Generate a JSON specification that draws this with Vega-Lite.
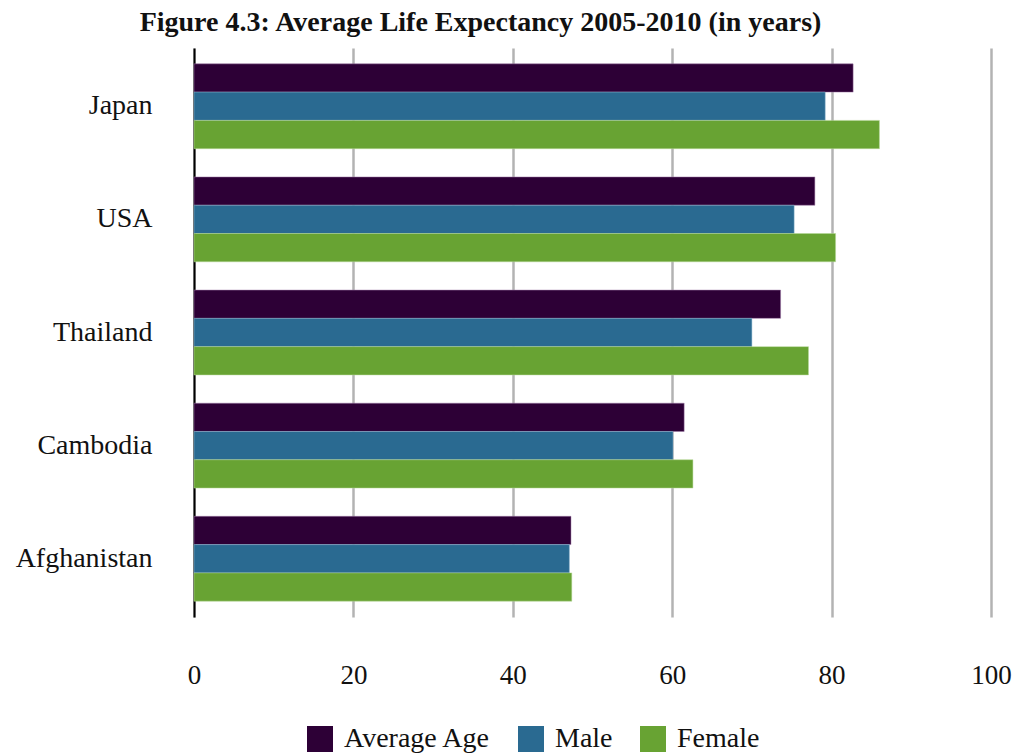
{
  "$schema": "https://vega.github.io/schema/vega-lite/v6.json",
  "autosize": {"type": "none"},
  "width": 797,
  "height": 569,
  "padding": {"left": 194, "top": 48, "right": 33, "bottom": 136},
  "background": "white",
  "title": {
    "text": "Figure 4.3: Average Life Expectancy 2005-2010 (in years)",
    "font": "Liberation Serif",
    "fontSize": 28,
    "fontWeight": "bold",
    "color": "#111111",
    "anchor": "middle",
    "frame": "group",
    "dx": -112,
    "offset": 11
  },
  "data": {
    "values": [
      {"country": "Japan", "series": "Average Age", "years": 82.7},
      {"country": "Japan", "series": "Male", "years": 79.2},
      {"country": "Japan", "series": "Female", "years": 86.0},
      {"country": "USA", "series": "Average Age", "years": 77.9},
      {"country": "USA", "series": "Male", "years": 75.3},
      {"country": "USA", "series": "Female", "years": 80.5},
      {"country": "Thailand", "series": "Average Age", "years": 73.6},
      {"country": "Thailand", "series": "Male", "years": 70.0},
      {"country": "Thailand", "series": "Female", "years": 77.1},
      {"country": "Cambodia", "series": "Average Age", "years": 61.5},
      {"country": "Cambodia", "series": "Male", "years": 60.1},
      {"country": "Cambodia", "series": "Female", "years": 62.6},
      {"country": "Afghanistan", "series": "Average Age", "years": 47.3},
      {"country": "Afghanistan", "series": "Male", "years": 47.1},
      {"country": "Afghanistan", "series": "Female", "years": 47.4}
    ]
  },
  "mark": {"type": "bar", "strokeWidth": 1, "strokeOpacity": 0.5},
  "encoding": {
    "y": {
      "field": "country",
      "type": "nominal",
      "sort": ["Japan", "USA", "Thailand", "Cambodia", "Afghanistan"],
      "scale": {"paddingInner": 0.25, "paddingOuter": 0.14},
      "axis": {
        "title": null,
        "domain": true,
        "domainColor": "#000000",
        "domainWidth": 2,
        "ticks": false,
        "labelPadding": 42,
        "labelFont": "Liberation Serif",
        "labelFontSize": 28,
        "labelColor": "#111111"
      }
    },
    "yOffset": {
      "field": "series",
      "type": "nominal",
      "sort": ["Average Age", "Male", "Female"],
      "scale": {"paddingInner": 0, "paddingOuter": 0}
    },
    "x": {
      "field": "years",
      "type": "quantitative",
      "scale": {"domain": [0, 100], "nice": false},
      "axis": {
        "title": null,
        "values": [0, 20, 40, 60, 80, 100],
        "domain": false,
        "ticks": false,
        "grid": true,
        "gridColor": "#b3b3b3",
        "gridWidth": 2.5,
        "labelFlush": false,
        "labelPadding": 45,
        "labelFont": "Liberation Serif",
        "labelFontSize": 27,
        "labelColor": "#111111"
      }
    },
    "color": {
      "field": "series",
      "type": "nominal",
      "sort": ["Average Age", "Male", "Female"],
      "scale": {
        "domain": ["Average Age", "Male", "Female"],
        "range": ["#2d0036", "#2a6a91", "#68a333"]
      },
      "legend": {
        "title": null,
        "orient": "none",
        "legendX": 112,
        "legendY": 677,
        "direction": "horizontal",
        "symbolType": "square",
        "symbolSize": 676,
        "symbolStrokeWidth": 0,
        "symbolOpacity": 1,
        "labelFont": "Liberation Serif",
        "labelFontSize": 28,
        "labelColor": "#111111",
        "labelOffset": 10,
        "columnPadding": 26
      }
    },
    "stroke": {
      "field": "series",
      "type": "nominal",
      "scale": {
        "domain": ["Average Age", "Male", "Female"],
        "range": ["#a07aa8", "#8fb7d0", "#b7d99a"]
      },
      "legend": null
    }
  },
  "config": {
    "view": {"stroke": null}
  }
}
